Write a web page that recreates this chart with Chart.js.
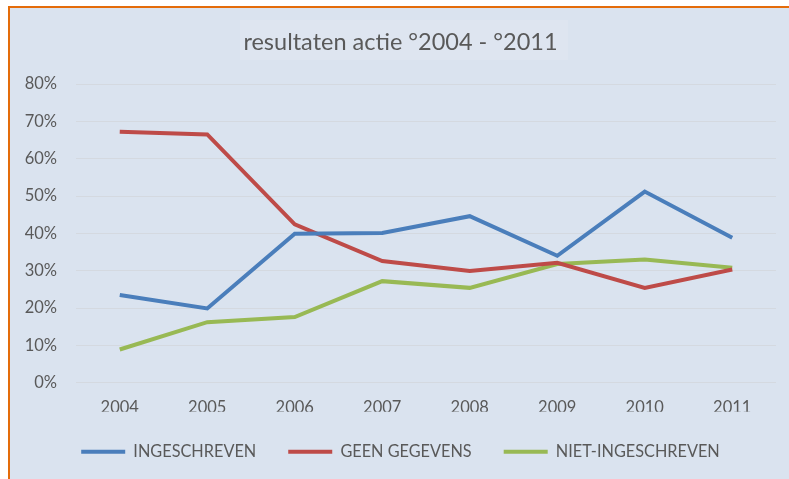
<!DOCTYPE html>
<html>
<head>
<meta charset="utf-8">
<script src="https://cdn.jsdelivr.net/npm/chart.js@4/dist/chart.umd.min.js"></script>
<style>
  html, body { margin: 0; padding: 0; background: #ffffff; }
  #frame { position: absolute; left: 8px; top: 6px; width: 781px; height: 473px;
           background: #dae3ef; border-top: 2px solid #e46c0a; border-left: 2px solid #e46c0a; box-sizing: border-box; }
  #c { position: absolute; left: 0; top: 0; }
</style>
</head>
<body>
<div id="frame"></div>
<canvas id="c" width="789" height="479"></canvas>
<script>
const categories = ['2004', '2005', '2006', '2007', '2008', '2009', '2010', '2011'];
const ingeschreven = [23.5, 19.9, 39.9, 40.1, 44.6, 34.0, 51.2, 38.8];
const geenGegevens = [67.2, 66.5, 42.4, 32.6, 29.9, 32.1, 25.4, 30.3];
const nietIngeschreven = [8.9, 16.2, 17.6, 27.2, 25.4, 31.8, 33.0, 30.8];
const seriesNames = ['INGESCHREVEN', 'GEEN GEGEVENS', 'NIET-INGESCHREVEN'];
const seriesColors = ['#4a7ebb', '#be4b48', '#98b954'];
const titleText = 'resultaten actie °2004 - °2011';

const FONT = 'Lato, "Open Sans", sans-serif';
const TEXT = '#595959';

const titleBox = {
  id: 'titleBox',
  beforeDraw(chart) {
    const ctx = chart.ctx;
    ctx.save();
    ctx.fillStyle = '#dee5f0';
    ctx.fillRect(240, 20, 328, 40);
    ctx.restore();
  }
};

function mk(label, data, color) {
  return { label, data, borderColor: color, backgroundColor: color, borderWidth: 4,
           pointRadius: 0, pointHoverRadius: 0, tension: 0, fill: false };
}

new Chart(document.getElementById('c'), {
  type: 'line',
  data: {
    labels: categories,
    datasets: [
      mk(seriesNames[0], ingeschreven, seriesColors[0]),
      mk(seriesNames[1], geenGegevens, seriesColors[1]),
      mk(seriesNames[2], nietIngeschreven, seriesColors[2])
    ]
  },
  plugins: [titleBox],
  options: {
    responsive: false,
    animation: false,
    layout: { padding: { left: 25, right: 13, top: 0, bottom: 9 } },
    plugins: {
      tooltip: { enabled: false },
      title: {
        display: true, text: titleText, color: TEXT,
        font: { family: FONT, size: 23.5, weight: 'normal' },
        padding: { top: 28, bottom: 27.8 }
      },
      legend: {
        position: 'bottom',
        labels: {
          color: TEXT, font: { family: FONT, size: 16.3 },
          boxWidth: 44, boxHeight: 4, padding: 32,
          generateLabels(chart) {
            return chart.data.datasets.map((ds, i) => ({
              text: ds.label, fillStyle: ds.borderColor, strokeStyle: ds.borderColor,
              lineWidth: 0, datasetIndex: i, hidden: false, fontColor: TEXT
            }));
          }
        }
      }
    },
    scales: {
      x: {
        type: 'category', offset: true,
        grid: { display: false, drawTicks: false },
        border: { display: false },
        ticks: { color: TEXT, font: { family: FONT, size: 16.5 }, padding: 15, maxRotation: 0 },
        afterFit(s) { s.height = 29; }
      },
      y: {
        min: 0, max: 80,
        grid: { color: '#d4d9e0', lineWidth: 1, drawTicks: false },
        border: { display: false },
        ticks: { stepSize: 10, color: TEXT, font: { family: FONT, size: 16.5 }, padding: 19,
                 callback: v => v + '%' },
        afterFit(s) { s.width = 51; }
      }
    }
  }
});
</script>
</body>
</html>
